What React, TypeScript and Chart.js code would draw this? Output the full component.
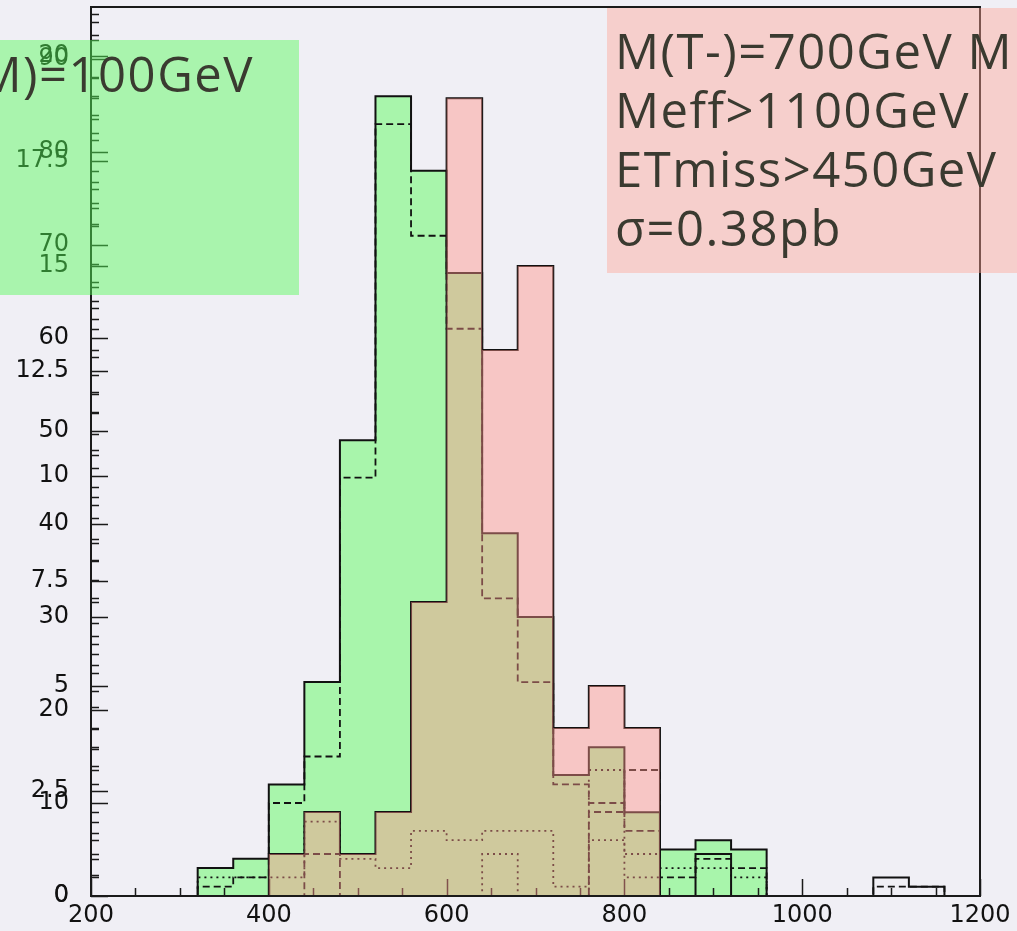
import React, { useEffect, useRef } from "react";
import { Chart, registerables } from "chart.js";

Chart.register(...registerables);

// 40 GeV bins: left edges, last upper edge
const binLeftEdges = [200, 240, 280, 320, 360, 400, 440, 480, 520, 560, 600, 640, 680, 720, 760, 800, 840, 880, 920, 960, 1000, 1040, 1080, 1120, 1160];
const binUpperEdge = 1200;

// Set A (green fill, black lines) – left scale 0..90
const greenSolid = [0, 0, 0, 3, 4, 12, 23, 49, 86, 78, 67, 39, 30, 13, 16, 9, 5, 6, 5, 0, 0, 0, 2, 1, 0];
const greenDashed = [0, 0, 0, 1, 2, 10, 15, 45, 83, 71, 61, 32, 23, 12, 10, 7, 2, 4, 3, 0, 0, 0, 1, 1, 0];
const greenDotted = [0, 0, 0, 2, 2, 2, 8, 4, 3, 7, 6, 7, 7, 1, 6, 2, 3, 3, 2, 0, 0, 0, 0, 0, 0];

// Set B (pink fill) – second scale 0..20
const pinkSolid = [0, 0, 0, 0, 0, 1, 2, 1, 2, 7, 19, 13, 15, 4, 5, 4, 0, 1, 0, 0, 0, 0, 0, 0, 0];
const pinkDashed = [0, 0, 0, 0, 0, 0, 1, 0, 0, 0, 0, 0, 0, 0, 2, 3, 0, 0, 0, 0, 0, 0, 0, 0, 0];
const pinkDotted = [0, 0, 0, 0, 0, 0, 0, 0, 0, 0, 0, 1, 0, 0, 3, 1, 0, 0, 0, 0, 0, 0, 0, 0, 0];

// colour fills only cover bins whose left edge is below these
const greenFillBelow = 960;
const pinkFillBelow = 840;

const xTickValues = [200, 400, 600, 800, 1000, 1200];
const yTickValuesA = [0, 10, 20, 30, 40, 50, 60, 70, 80, 90];
const yTickValuesB = [0, 2.5, 5, 7.5, 10, 12.5, 15, 17.5, 20];
const yMaxA = 95.6;
const yMaxB = 21.17;

const rightBoxLines = ["M(T-)=700GeV M", "Meff>1100GeV", "ETmiss>450GeV", "σ=0.38pb"];
const leftBoxText = "M)=100GeV";

const TICK_FONT = "24px 'DejaVu Sans', sans-serif";

const toSteps = (vals: number[]) => [
  ...binLeftEdges.map((x, i) => ({ x, y: vals[i] })),
  { x: binUpperEdge, y: 0 },
];

const tickPlugin = {
  id: "rootTicks",
  afterDatasetDraw(chart: any, args: any) {
    const ds = chart.data.datasets[args.index];
    if (ds.label !== "greenFill") return;
    const ctx = chart.ctx;
    const ca = chart.chartArea;
    ctx.save();
    ctx.strokeStyle = "#1a1a1a";
    ctx.lineWidth = 1.5;
    ctx.beginPath();
    const xs = chart.scales.x;
    for (let v = 200; v <= 1200 + 1e-6; v += 50) {
      const px = Math.round(xs.getPixelForValue(v)) + 0.5;
      const len = v % 200 === 0 ? 17 : 8;
      ctx.moveTo(px, ca.bottom);
      ctx.lineTo(px, ca.bottom - len);
    }
    const ya = chart.scales.yA;
    for (let v = 0; v <= yMaxA; v += 2) {
      const py = Math.round(ya.getPixelForValue(v)) + 0.5;
      const len = v % 10 === 0 ? 17 : 8;
      ctx.moveTo(ca.left, py);
      ctx.lineTo(ca.left + len, py);
    }
    const yb = chart.scales.yB;
    for (let v = 0; v <= yMaxB; v += 0.5) {
      const py = Math.round(yb.getPixelForValue(v)) + 0.5;
      const len = Math.abs(v / 2.5 - Math.round(v / 2.5)) < 1e-6 ? 17 : 8;
      ctx.moveTo(ca.left, py);
      ctx.lineTo(ca.left + len, py);
    }
    ctx.stroke();
    ctx.restore();
  },
  afterDatasetsDraw(chart: any) {
    const ctx = chart.ctx;
    const ca = chart.chartArea;
    ctx.save();
    ctx.strokeStyle = "#1a1a1a";
    ctx.lineWidth = 2;
    ctx.strokeRect(ca.left, ca.top, ca.right - ca.left, ca.bottom - ca.top);
    ctx.restore();
  },
  afterDraw(chart: any) {
    // labels of the second (overlaid) y scale, placed by that scale
    const ctx = chart.ctx;
    const yb = chart.scales.yB;
    const ca = chart.chartArea;
    ctx.save();
    ctx.font = TICK_FONT;
    ctx.fillStyle = "#111";
    ctx.textAlign = "right";
    ctx.textBaseline = "middle";
    yTickValuesB.forEach((v) => {
      ctx.fillText(String(v), ca.left - 22, yb.getPixelForValue(v));
    });
    ctx.restore();
  },
};

const lineDs = (label: string, vals: number[], axis: string, dash: number[]) => ({
  label,
  data: toSteps(vals),
  yAxisID: axis,
  stepped: "before",
  fill: false,
  borderColor: "#111111",
  borderWidth: dash.length ? 1.8 : 2,
  borderDash: dash,
  pointRadius: 0,
  order: 1,
});

export default function App() {
  const ref = useRef<HTMLCanvasElement>(null);

  useEffect(() => {
    const greenFillVals = greenSolid.map((v, i) => (binLeftEdges[i] < greenFillBelow ? v : 0));
    const pinkFillVals = pinkSolid.map((v, i) => (binLeftEdges[i] < pinkFillBelow ? v : 0));
    const tickFont = { family: "'DejaVu Sans', sans-serif", size: 24 };
    const yFit = (w: number) => (s: any) => {
      s.width = w;
      s.paddingTop = 0;
      s.paddingBottom = 0;
    };

    const chart = new Chart(ref.current as HTMLCanvasElement, {
      type: "line",
      data: {
        datasets: [
          {
            label: "pinkFill",
            data: toSteps(pinkFillVals),
            yAxisID: "yB",
            stepped: "before",
            fill: "origin",
            backgroundColor: "rgba(255,148,140,0.45)",
            borderColor: "rgba(0,0,0,0)",
            borderWidth: 0,
            pointRadius: 0,
            order: 0,
          },
          lineDs("greenSolid", greenSolid, "yA", []),
          lineDs("greenDashed", greenDashed, "yA", [7, 4]),
          lineDs("greenDotted", greenDotted, "yA", [2, 4]),
          lineDs("pinkSolid", pinkSolid, "yB", []),
          lineDs("pinkDashed", pinkDashed, "yB", [7, 4]),
          lineDs("pinkDotted", pinkDotted, "yB", [2, 4]),
          {
            label: "greenFill",
            data: toSteps(greenFillVals),
            yAxisID: "yA",
            stepped: "before",
            fill: "origin",
            backgroundColor: "rgb(168,245,171)",
            borderColor: "rgba(0,0,0,0)",
            borderWidth: 0,
            pointRadius: 0,
            order: 2,
          },
        ] as any,
      },
      options: {
        responsive: false,
        animation: false,
        devicePixelRatio: 1,
        layout: { padding: { top: 7, right: 37, left: 0, bottom: 0 } },
        plugins: { legend: { display: false }, tooltip: { enabled: false } },
        scales: {
          x: {
            type: "linear",
            min: 200,
            max: 1200,
            afterBuildTicks: (s: any) => {
              s.ticks = xTickValues.map((value) => ({ value }));
            },
            afterFit: (s: any) => {
              s.height = 35;
              s.paddingLeft = 0;
              s.paddingRight = 0;
            },
            ticks: { font: tickFont, color: "#111", padding: 5, autoSkip: false, maxRotation: 0, callback: (v: any) => String(v) },
            grid: { display: false, drawTicks: false },
            border: { display: false },
          },
          yA: {
            type: "linear",
            position: "left",
            weight: 1,
            min: 0,
            max: yMaxA,
            afterBuildTicks: (s: any) => {
              s.ticks = yTickValuesA.map((value) => ({ value }));
            },
            afterFit: yFit(91),
            ticks: { font: tickFont, color: "#111", padding: 22, autoSkip: false, callback: (v: any) => String(v) },
            grid: { display: false, drawTicks: false },
            border: { display: false },
          },
          yB: {
            type: "linear",
            position: "left",
            weight: 0,
            min: 0,
            max: yMaxB,
            afterBuildTicks: (s: any) => {
              s.ticks = yTickValuesB.map((value) => ({ value }));
            },
            afterFit: yFit(0),
            ticks: { display: false },
            grid: { display: false, drawTicks: false },
            border: { display: false },
          },
        },
      } as any,
      plugins: [tickPlugin],
    });
    return () => chart.destroy();
  }, []);

  const textFont = "'Open Sans', Lato, sans-serif";
  return (
    <div
      style={{
        position: "absolute",
        left: 0,
        top: 0,
        width: 1017,
        height: 931,
        overflow: "hidden",
        background: "#f0eff5",
      }}
    >
      <canvas ref={ref} width={1017} height={931} style={{ position: "absolute", left: 0, top: 0 }} />
      <div
        style={{
          position: "absolute",
          left: 0,
          top: 40,
          width: 299,
          height: 255,
          overflow: "hidden",
          background: "rgba(85,250,88,0.46)",
        }}
      >
        <span
          style={{
            position: "absolute",
            right: 45,
            top: 9,
            whiteSpace: "nowrap",
            fontFamily: textFont,
            fontSize: 49,
            letterSpacing: "1.5px",
            lineHeight: "48px",
            color: "#3a3a30",
          }}
        >
          {leftBoxText}
        </span>
      </div>
      <div
        style={{
          position: "absolute",
          left: 607,
          top: 8,
          width: 420,
          height: 265,
          background: "rgba(255,165,150,0.43)",
        }}
      >
        <div
          style={{
            position: "absolute",
            left: 8,
            top: 13,
            whiteSpace: "nowrap",
            fontFamily: textFont,
            fontSize: 49,
            letterSpacing: "1.5px",
            lineHeight: "59px",
            color: "#3a3a30",
          }}
        >
          {rightBoxLines.map((t, i) => (
            <div key={i}>{t}</div>
          ))}
        </div>
      </div>
    </div>
  );
}
